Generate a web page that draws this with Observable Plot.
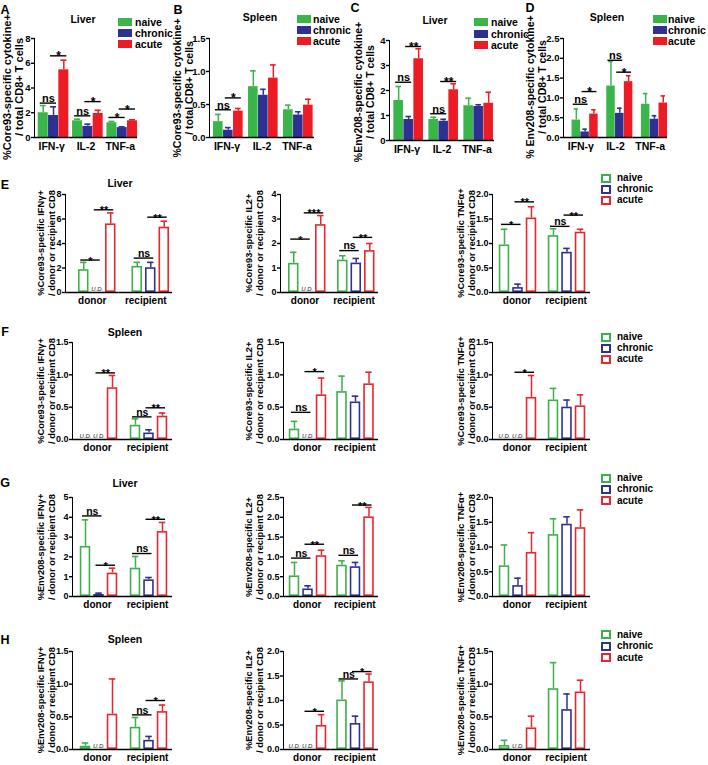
<!DOCTYPE html>
<html><head><meta charset="utf-8">
<script src="https://cdn.jsdelivr.net/npm/d3@7"></script>
<script src="https://cdn.jsdelivr.net/npm/@observablehq/plot@0.6"></script>
<style>
body{margin:0;background:#fff;}
#fig{position:relative;width:708px;height:765px;font-family:"Liberation Sans",Arial,Helvetica,sans-serif;color:#000;overflow:hidden;background:#fff}
.abs{position:absolute}
#fig svg g[aria-label="y-axis tick"], #fig svg g[aria-label="y-axis line"]{stroke-width:1.4px}
#fig svg.top g[aria-label="y-axis tick label"]{font-size:9.5px}
#fig svg.low g[aria-label="y-axis tick label"]{font-size:9px}
</style></head><body><div id="fig"></div><script>
// ---------------- DATA ----------------
const series = ["naive", "chronic", "acute"];
const cytokines = ["IFN-γ", "IL-2", "TNF-a"];
const compartments = ["donor", "recipient"];

// A: Liver, Core93
const A_mean = [[2.0, 1.78, 5.47], [1.35, 0.9, 1.94], [1.19, 0.8, 1.35]];
const A_sem = [[0.58, 0.7, 0.78], [0.13, 0.18, 0.26], [0.11, 0.06, 0.08]];
const A_sig = [["IFN-γ","naive","chronic","ns",2.78],["IFN-γ","chronic","acute","*",6.6],["IL-2","naive","chronic","ns",1.75],["IL-2","chronic","acute","*",2.9],["TNF-a","naive","chronic","*",1.62],["TNF-a","chronic","acute","*",2.3]];
const A_ticks = [0, 2, 4, 6, 8];
// B: Spleen, Core93
const B_mean = [[0.24, 0.11, 0.40], [0.77, 0.64, 0.90], [0.42, 0.34, 0.49]];
const B_sem = [[0.11, 0.04, 0.04], [0.24, 0.09, 0.20], [0.07, 0.05, 0.09]];
const B_sig = [["IFN-γ","naive","chronic","ns",0.42],["IFN-γ","chronic","acute","*",0.6]];
const B_ticks = [0, 0.5, 1, 1.5];
// C: Liver, Env208
const C_mean = [[1.6, 0.84, 3.27], [0.84, 0.77, 2.03], [1.39, 1.36, 1.49]];
const C_sem = [[0.56, 0.12, 0.4], [0.09, 0.08, 0.24], [0.3, 0.07, 0.44]];
const C_sig = [["IFN-γ","naive","chronic","ns",2.33],["IFN-γ","chronic","acute","**",3.76],["IL-2","naive","chronic","ns",1.07],["IL-2","chronic","acute","**",2.36]];
const C_ticks = [0, 1, 2, 3, 4];
// D: Spleen, Env208
const D_mean = [[0.44, 0.14, 0.59], [1.30, 0.61, 1.41], [0.84, 0.46, 0.87]];
const D_sem = [[0.28, 0.07, 0.11], [0.62, 0.13, 0.15], [0.27, 0.09, 0.18]];
const D_sig = [["IFN-γ","naive","chronic","ns",0.84],["IFN-γ","chronic","acute","*",1.16],["IL-2","naive","chronic","ns",1.95],["IL-2","chronic","acute","*",1.65]];
const D_ticks = [0, 0.5, 1, 1.5, 2, 2.5];

// E: Liver, Core93 (donor / recipient)
const E1_mean = [[1.86, null, 5.6], [2.13, 2.02, 5.33]];
const E1_sem = [[0.6, null, 0.9], [0.33, 0.44, 0.49]];
const E1_sig = [["donor","naive","chronic","*",2.65],["donor","chronic","acute","**",6.75],["recipient","naive","chronic","ns",2.81],["recipient","chronic","acute","**",6.15]];
const E1_ud = [["donor","chronic"]];
const E1_ticks = [0, 2, 4, 6, 8];
const E2_mean = [[1.19, null, 2.77], [1.32, 1.2, 1.71]];
const E2_sem = [[0.45, null, 0.37], [0.18, 0.19, 0.29]];
const E2_sig = [["donor","naive","chronic","*",2.18],["donor","chronic","acute","***",3.25],["recipient","naive","chronic","ns",1.71],["recipient","chronic","acute","**",2.25]];
const E2_ud = [["donor","chronic"]];
const E2_ticks = [0, 1, 2, 3, 4];
const E3_mean = [[0.97, 0.10, 1.52], [1.16, 0.82, 1.23]];
const E3_sem = [[0.32, 0.07, 0.23], [0.14, 0.08, 0.06]];
const E3_sig = [["donor","naive","chronic","*",1.39],["donor","chronic","acute","**",1.85],["recipient","naive","chronic","ns",1.35],["recipient","chronic","acute","**",1.58]];
const E3_ticks = [0, 0.5, 1, 1.5, 2];

// F: Spleen, Core93
const F1_mean = [[null, null, 0.80], [0.22, 0.10, 0.36]];
const F1_sem = [[null, null, 0.19], [0.10, 0.05, 0.05]];
const F1_sig = [["donor","chronic","acute","**",1.03],["recipient","naive","chronic","ns",0.35],["recipient","chronic","acute","**",0.49]];
const F1_ud = [["donor","naive"],["donor","chronic"]];
const F2_mean = [[0.16, null, 0.69], [0.74, 0.58, 0.86]];
const F2_sem = [[0.12, null, 0.26], [0.24, 0.09, 0.18]];
const F2_sig = [["donor","naive","chronic","ns",0.42],["donor","chronic","acute","*",1.05]];
const F2_ud = [["donor","chronic"]];
const F3_mean = [[null, null, 0.65], [0.61, 0.50, 0.52]];
const F3_sem = [[null, null, 0.34], [0.18, 0.11, 0.17]];
const F3_sig = [["donor","chronic","acute","*",1.04]];
const F3_ud = [["donor","naive"],["donor","chronic"]];
const F_ticks = [0, 0.5, 1, 1.5];

// G: Liver, Env208
const G1_mean = [[2.53, 0.10, 1.18], [1.43, 0.84, 3.28]];
const G1_sem = [[1.34, 0.07, 0.25], [0.59, 0.12, 0.46]];
const G1_sig = [["donor","naive","chronic","ns",4.07],["donor","chronic","acute","*",1.58],["recipient","naive","chronic","ns",2.17],["recipient","chronic","acute","**",3.9]];
const G1_ticks = [0, 1, 2, 3, 4, 5];
const G2_mean = [[0.52, 0.19, 1.03], [0.79, 0.75, 2.01]];
const G2_sem = [[0.34, 0.08, 0.14], [0.11, 0.11, 0.24]];
const G2_sig = [["donor","naive","chronic","ns",0.97],["donor","chronic","acute","**",1.32],["recipient","naive","chronic","ns",1.04],["recipient","chronic","acute","**",2.31]];
const G2_ticks = [0, 0.5, 1, 1.5, 2, 2.5];
const G3_mean = [[0.62, 0.22, 0.89], [1.25, 1.46, 1.39]];
const G3_sem = [[0.42, 0.15, 0.40], [0.32, 0.15, 0.36]];
const G3_ticks = [0, 0.5, 1, 1.5, 2];

// H: Spleen, Env208
const H1_mean = [[0.05, null, 0.54], [0.34, 0.14, 0.58]];
const H1_sem = [[0.05, null, 0.54], [0.15, 0.06, 0.10]];
const H1_sig = [["recipient","naive","chronic","ns",0.53],["recipient","chronic","acute","*",0.75]];
const H1_ud = [["donor","chronic"]];
const H1_ticks = [0, 0.5, 1, 1.5];
const H2_mean = [[null, null, 0.49], [1.01, 0.53, 1.38]];
const H2_sem = [[null, null, 0.22], [0.39, 0.15, 0.16]];
const H2_sig = [["donor","chronic","acute","*",0.78],["recipient","naive","chronic","ns",1.44],["recipient","chronic","acute","*",1.59]];
const H2_ud = [["donor","naive"],["donor","chronic"]];
const H2_ticks = [0, 0.5, 1, 1.5, 2];
const H3_mean = [[0.06, null, 0.33], [0.93, 0.61, 0.88]];
const H3_sem = [[0.08, null, 0.18], [0.40, 0.24, 0.18]];
const H3_ud = [["donor","chronic"]];
const H3_ticks = [0, 0.5, 1, 1.5];

const filledColors = ["#39b54a", "#2e3192", "#ed1c24"];
const outlineColors = ["#3cb04a", "#2e3192", "#e8262d"];

// ---------------- DRAWING ----------------
const FONT = "'Liberation Sans', Arial, Helvetica, sans-serif";
const fig = document.getElementById("fig");

function buildRows(groups, mean, sem) {
  const rows = [];
  groups.forEach((g, i) => series.forEach((s, j) => {
    const m = mean[i][j];
    if (m != null) rows.push({g, s, mean: m, top: m + sem[i][j]});
  }));
  return rows;
}

function panel(c) {
  const groups = c.groups;
  const rows = buildRows(groups, c.mean, c.sem);
  const sigRows = (c.sig || []).map(([g, a, b, label, level]) => ({g, a, b, label, level}));
  const stars = sigRows.filter(d => d.label !== "ns");
  const nss = sigRows.filter(d => d.label === "ns");
  const udRows = (c.ud || []).map(([g, s]) => ({g, s}));
  const mb = c.mb;
  const width = c.R - c.left + 6;
  const height = c.y0 - c.top + mb;
  const n = groups.length, W = (c.R - c.L) / n;
  const pi = 1 - c.barW / c.step;
  const po = Math.max(0, (W / c.step - 3 + pi) / 2);
  const shift = d3.mean(c.centers.map((v, i) => v - (c.L + W * (i + 0.5))));
  const O = 2 * po * c.step;
  const align = O > 0 ? Math.max(0, Math.min(1, 0.5 + shift / O)) : 0.5;
  const colors = c.filled ? filledColors : outlineColors;
  const sigInset = c.barW / 2 - 3;
  const marks = [
    Plot.barY(rows, c.filled
      ? {fx: "g", x: "s", y: "mean", fill: "s"}
      : {fx: "g", x: "s", y: "mean", fill: "white", stroke: "s", strokeWidth: 1.6, inset: 0.8}),
    Plot.ruleX(rows, {fx: "g", x: "s", y1: "mean", y2: "top", stroke: "s", strokeWidth: 1.5}),
    Plot.tickY(rows, {fx: "g", x: "s", y: "top", stroke: "s", strokeWidth: 1.6, insetLeft: c.capInset, insetRight: c.capInset}),
    Plot.ruleY([0], {stroke: "#000", strokeWidth: 1.4}),
    Plot.ruleY(sigRows, {fx: "g", x1: "a", x2: "b", y: "level", stroke: "#000", strokeWidth: 1.4, insetLeft: sigInset, insetRight: sigInset}),
    Plot.text(stars, {fx: "g", x: "a", y: "level", text: "label", dx: c.step / 2, dy: 4.5, lineAnchor: "bottom", fontSize: c.starSize, fontWeight: "bold", fill: "#000"}),
    Plot.text(nss, {fx: "g", x: "a", y: "level", text: "label", dx: c.step / 2, dy: -1.2, lineAnchor: "bottom", fontSize: c.nsSize, fontWeight: "bold", fill: "#000"}),
    Plot.text(udRows, {fx: "g", x: "s", y: () => 0, text: () => "U.D.", dy: -1.5, lineAnchor: "bottom", fontSize: 6, fontStyle: "italic", fontWeight: "normal", fill: "#222"})
  ];
  const svg = Plot.plot({
    width, height,
    marginLeft: c.L - c.left, marginRight: width - (c.R - c.left),
    marginTop: c.yTop - c.top, marginBottom: mb,
    style: `font-family:${FONT};font-size:${c.fs}px;font-weight:bold;background:transparent;overflow:visible;max-width:none;color:#000`,
    fx: {domain: groups, padding: 0, round: false, axis: "bottom", label: null, tickSize: 0, tickPadding: c.fxPad},
    x: {domain: series, paddingInner: pi, paddingOuter: po, align, round: false, axis: null},
    y: {domain: [0, c.ymax], ticks: c.ticks, tickFormat: d3.format(c.fmt), label: null, line: true, tickSize: 3, tickPadding: 1},
    color: {domain: series, range: colors},
    marks
  });
  svg.classList.add(c.cls);
  const wrap = document.createElement("div");
  wrap.className = "abs";
  wrap.style.left = c.left + "px";
  wrap.style.top = c.top + "px";
  wrap.style.width = width + "px";
  wrap.appendChild(svg);
  fig.appendChild(wrap);
}

const topCommon = {cls: "top", top: 0, mb: 22, fs: 10.5, filled: true, groups: cytokines, fxPad: 5, starSize: 12, nsSize: 11, capInset: 2};
panel({...topCommon, left: 0, L: 34, R: 137, yTop: 38, y0: 137, ymax: 8, ticks: A_ticks, fmt: "d", barW: 10, step: 10.3, centers: [54.5, 88, 121.5], mean: A_mean, sem: A_sem, sig: A_sig});
panel({...topCommon, left: 175, L: 209, R: 314, yTop: 38, y0: 137, ymax: 1.5, ticks: B_ticks, fmt: ".1f", barW: 9.6, step: 10, centers: [229, 263, 296.5], mean: B_mean, sem: B_sem, sig: B_sig});
panel({...topCommon, left: 350, L: 389, R: 494, yTop: 40, y0: 140, ymax: 4, ticks: C_ticks, fmt: "d", barW: 9.6, step: 10, centers: [409.5, 442.5, 477.5], mean: C_mean, sem: C_sem, sig: C_sig});
panel({...topCommon, left: 525, L: 563, R: 667, yTop: 38, y0: 137, ymax: 2.5, ticks: D_ticks, fmt: ".1f", barW: 8.5, step: 8.8, centers: [587, 620.5, 653], mean: D_mean, sem: D_sem, sig: D_sig});

const lowCommon = {cls: "low", mb: 24, fs: 10, filled: false, groups: compartments, fxPad: 4, starSize: 11, nsSize: 10.5, capInset: 2, barW: 10.5, step: 13.5};
const rowsY = {E: [194, 292], F: [342, 439], G: [497, 596], H: [651, 749]};
const col = [
  {left: 28, L: 72, R: 172, centers: [98.5, 148.5]},
  {left: 250, L: 283, R: 378, centers: [306.5, 356]},
  {left: 462, L: 492, R: 590, centers: [517.5, 566.5]}
];
function low(row, ci, extra) {
  const [yTop, y0] = rowsY[row];
  panel({...lowCommon, ...col[ci], yTop, y0, top: yTop - 12, ...extra});
}
low("E", 0, {L: 65, ymax: 8, ticks: E1_ticks, fmt: "d", mean: E1_mean, sem: E1_sem, sig: E1_sig, ud: E1_ud});
low("E", 1, {L: 280, ymax: 4, ticks: E2_ticks, fmt: "d", mean: E2_mean, sem: E2_sem, sig: E2_sig, ud: E2_ud});
low("E", 2, {ymax: 2, ticks: E3_ticks, fmt: ".1f", mean: E3_mean, sem: E3_sem, sig: E3_sig});
low("F", 0, {ymax: 1.5, ticks: F_ticks, fmt: ".1f", mean: F1_mean, sem: F1_sem, sig: F1_sig, ud: F1_ud});
low("F", 1, {ymax: 1.5, ticks: F_ticks, fmt: ".1f", mean: F2_mean, sem: F2_sem, sig: F2_sig, ud: F2_ud});
low("F", 2, {ymax: 1.5, ticks: F_ticks, fmt: ".1f", mean: F3_mean, sem: F3_sem, sig: F3_sig, ud: F3_ud});
low("G", 0, {ymax: 5, ticks: G1_ticks, fmt: "d", mean: G1_mean, sem: G1_sem, sig: G1_sig});
low("G", 1, {ymax: 2.5, ticks: G2_ticks, fmt: ".1f", mean: G2_mean, sem: G2_sem, sig: G2_sig});
low("G", 2, {ymax: 2, ticks: G3_ticks, fmt: ".1f", mean: G3_mean, sem: G3_sem});
low("H", 0, {ymax: 1.5, ticks: H1_ticks, fmt: ".1f", mean: H1_mean, sem: H1_sem, sig: H1_sig, ud: H1_ud});
low("H", 1, {ymax: 2, ticks: H2_ticks, fmt: ".1f", mean: H2_mean, sem: H2_sem, sig: H2_sig, ud: H2_ud});
low("H", 2, {ymax: 1.5, ticks: H3_ticks, fmt: ".1f", mean: H3_mean, sem: H3_sem, ud: H3_ud});

// ---------------- TEXT, LABELS, LEGENDS ----------------
function addText(txt, x, y, size, anchor = "middle", weight = "bold") {
  const d = document.createElement("div");
  d.className = "abs";
  d.textContent = txt;
  d.style.cssText = `left:${x}px;top:${y}px;font-size:${size}px;font-weight:${weight};white-space:nowrap;line-height:1;transform:translate(${anchor === "middle" ? -50 : 0}%,-50%)`;
  fig.appendChild(d);
}
function addYLabel(lines, cx, cy, size, lh) {
  const d = document.createElement("div");
  d.className = "abs";
  lines.forEach(l => { const e = document.createElement("div"); e.textContent = l; d.appendChild(e); });
  d.style.cssText = `left:${cx}px;top:${cy}px;font-size:${size}px;font-weight:bold;line-height:${lh}px;text-align:center;white-space:nowrap;transform:translate(-50%,-50%) rotate(-90deg)`;
  fig.appendChild(d);
}
function addSwatch(x, y, w, h, color, filled) {
  const d = document.createElement("div");
  d.className = "abs";
  const t = Math.round(y - h / 2);
  d.style.cssText = filled
    ? `left:${x}px;top:${t}px;width:${w}px;height:${h}px;background:${color}`
    : `left:${x}px;top:${t}px;width:${w - 4}px;height:${h - 4}px;border:2px solid ${color};background:#fff`;
  fig.appendChild(d);
}

// panel letters
[["A", 5, 10], ["B", 178, 10], ["C", 355, 8], ["D", 530, 8], ["E", 5, 185], ["F", 5, 332], ["G", 5, 483], ["H", 5, 640]]
  .forEach(([t, x, y]) => addText(t, x, y, 12.5));
// titles
[["Liver", 83, 19], ["Spleen", 260, 17], ["Liver", 435, 20], ["Spleen", 607, 17], ["Liver", 120, 183], ["Spleen", 125, 332], ["Liver", 125, 483], ["Spleen", 125, 639]]
  .forEach(([t, x, y]) => addText(t, x, y, 10.5));

// y labels top row
addYLabel(["%Core93-specific cytokine+", "/ total CD8+ T cells"], 12.5, 87, 11, 12);
addYLabel(["%Core93-specific cytokine+", "/ total CD8+ T cells"], 183, 88, 10.5, 12);
addYLabel(["%Env208-specific cytokine+", "/ total CD8+ T cells"], 364, 92, 10.5, 12);
addYLabel(["% Env208-specific cytokine+", "/ total CD8+ T cells"], 536, 87, 10.5, 12);
// y labels lower rows
const lowLabels = {
  E: ["%Core93-specific IFNγ+", "%Core93-specific IL2+", "%Core93-specific TNFα+"],
  F: ["%Core93-specific IFNγ+", "%Core93-specific IL2+", "%Core93-specific TNFα+"],
  G: ["%Env208-specific IFNγ+", "%Env208-specific IL2+", "%Env208-specific TNFα+"],
  H: ["%Env208-specific IFNγ+", "%Env208-specific IL2+", "%Env208-specific TNFα+"]
};
const labelX = [45.5, 254, 466];
Object.entries(lowLabels).forEach(([row, labs]) => {
  const [yTop, y0] = rowsY[row];
  labs.forEach((l, i) => addYLabel([l, "/ donor or recipient CD8"], labelX[i], (yTop + y0) / 2, 9.3, 10.5));
});

// legends top row (filled)
[[118, 135, [22, 33, 44]], [297, 313, [19, 30, 41]], [474, 491, [22, 33.5, 45]], [653, 668, [19, 30, 41]]]
  .forEach(([sx, tx, ys]) => series.forEach((s, i) => {
    addSwatch(sx, ys[i], 14, 8, filledColors[i], true);
    addText(s, tx, ys[i], 10.5, "start");
  }));
// legends lower rows (outlined)
[[178, 189, 200], [337, 348, 359], [478, 489, 500.5], [634.5, 646, 657.5]]
  .forEach(ys => series.forEach((s, i) => {
    addSwatch(601, ys[i], 10, 9, outlineColors[i], false);
    addText(s, 617, ys[i], 10, "start");
  }));
</script></body></html>
